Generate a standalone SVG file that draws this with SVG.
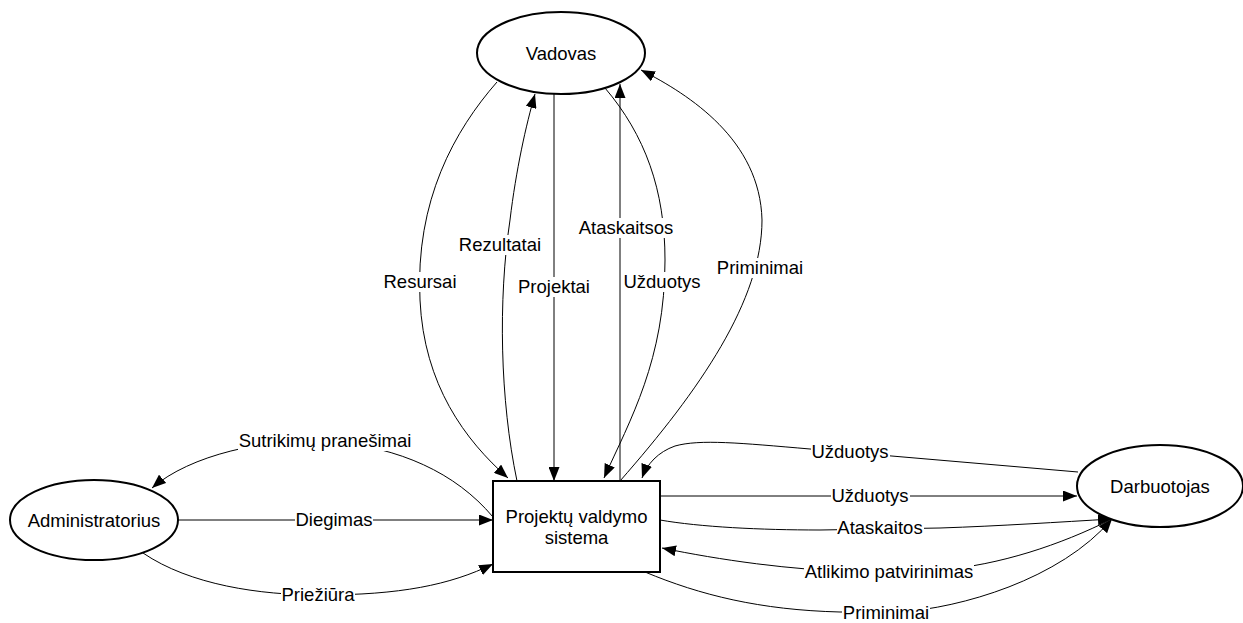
<svg xmlns="http://www.w3.org/2000/svg" width="1243" height="623" viewBox="0 0 1243 623">
  <style>
    .node { fill: #ffffff; stroke: #000000; stroke-width: 2; }
    .txt { font-family: "Liberation Sans", Arial, sans-serif; font-size: 18.5px; fill: #000000; text-anchor: middle; }
    .edge { fill: none; stroke: #000000; stroke-width: 1; }
    .arrow { marker-end: url(#arr); }
    .lblbg { fill: #ffffff; stroke: none; }
  </style>
  <defs>
    <marker id="arr" viewBox="0 0 14 11" refX="14" refY="5.5" markerWidth="14" markerHeight="11" orient="auto" markerUnits="userSpaceOnUse">
      <path d="M0,0 L14,5.5 L0,11 z" fill="#000000"/>
    </marker>
  </defs>
  <rect width="1243" height="623" fill="#ffffff"/>

  <!-- connectors -->
  <g id="connectors">
    <!-- Vadovas <-> system -->
    <path class="edge arrow" d="M497,82 C455,130 415,200 420,300 C424,385 465,440 508,478"/>
    <path class="edge arrow" d="M517,481 C500,400 498,300 510,220 C516,170 526,125 535,94"/>
    <path class="edge arrow" d="M554,94 L554,481"/>
    <path class="edge arrow" d="M620,481 L620,84"/>
    <path class="edge arrow" d="M605,88 C645,135 665,190 665,260 C665,360 630,420 604,478"/>
    <path class="edge arrow" d="M620,481 C700,390 762,300 762,220 C760,140 690,95 641,70"/>
    <!-- Administratorius <-> system -->
    <path class="edge arrow" d="M493,517 C455,472 400,448 330,441 C265,438 190,455 152,488"/>
    <path class="edge arrow" d="M178,520 L493,520"/>
    <path class="edge arrow" d="M143,553 C190,585 260,595 320,595 C400,595 450,585 493,564"/>
    <!-- Darbuotojas <-> system -->
    <path class="edge arrow" d="M1078,472 L810,449 C740,443 700,439 675,446 C658,452 647,464 642,478"/>
    <path class="edge arrow" d="M660,496 L1077,496"/>
    <path class="edge arrow" d="M660,520 C700,527 760,530 820,530 L940,528 C1000,526 1060,522 1112,519"/>
    <path class="edge arrow" d="M1112,519 C1060,545 1000,565 940,570 L860,572 C790,570 720,560 662,548"/>
    <path class="edge arrow" d="M645,572 C700,595 760,610 840,612 L900,612 C960,608 1060,580 1112,519"/>
  </g>

  <!-- connector labels -->
  <g id="labels">
    <rect class="lblbg" x="382" y="272" width="76" height="20"/>
    <text class="txt" x="420" y="288">Resursai</text>
    <rect class="lblbg" x="459" y="235" width="83" height="20"/>
    <text class="txt" x="500" y="251">Rezultatai</text>
    <rect class="lblbg" x="518" y="277" width="73" height="20"/>
    <text class="txt" x="554" y="293">Projektai</text>
    <rect class="lblbg" x="578" y="218" width="96" height="20"/>
    <text class="txt" x="626" y="234">Ataskaitsos</text>
    <rect class="lblbg" x="623" y="272" width="79" height="20"/>
    <text class="txt" x="662" y="288">Užduotys</text>
    <rect class="lblbg" x="716" y="258" width="88" height="20"/>
    <text class="txt" x="760" y="274">Priminimai</text>
    <rect class="lblbg" x="238" y="431" width="175" height="20"/>
    <text class="txt" x="325" y="447">Sutrikimų pranešimai</text>
    <rect class="lblbg" x="295" y="510" width="78" height="20"/>
    <text class="txt" x="334" y="526">Diegimas</text>
    <rect class="lblbg" x="281" y="585" width="74" height="20"/>
    <text class="txt" x="318" y="601">Priežiūra</text>
    <rect class="lblbg" x="811" y="442" width="79" height="20"/>
    <text class="txt" x="850" y="458">Užduotys</text>
    <rect class="lblbg" x="831" y="486" width="79" height="20"/>
    <text class="txt" x="870" y="502">Užduotys</text>
    <rect class="lblbg" x="837" y="518" width="87" height="20"/>
    <text class="txt" x="880" y="534">Ataskaitos</text>
    <rect class="lblbg" x="804" y="562" width="170" height="20"/>
    <text class="txt" x="889" y="578">Atlikimo patvirinimas</text>
    <rect class="lblbg" x="842" y="603" width="88" height="20"/>
    <text class="txt" x="886" y="619">Priminimai</text>
  </g>

  <!-- nodes -->
  <g id="vadovas">
    <ellipse class="node" cx="561" cy="53" rx="84" ry="41"/>
    <text class="txt" x="561" y="60">Vadovas</text>
  </g>
  <g id="administratorius">
    <ellipse class="node" cx="94" cy="520" rx="84" ry="40"/>
    <text class="txt" x="94" y="527">Administratorius</text>
  </g>
  <g id="sistema">
    <rect class="node" x="493" y="481" width="167" height="91"/>
    <text class="txt" x="576.5" y="523">Projektų valdymo</text>
    <text class="txt" x="576.5" y="544">sistema</text>
  </g>
  <g id="darbuotojas">
    <ellipse class="node" cx="1160" cy="486" rx="83" ry="41"/>
    <text class="txt" x="1160" y="493">Darbuotojas</text>
  </g>
</svg>
